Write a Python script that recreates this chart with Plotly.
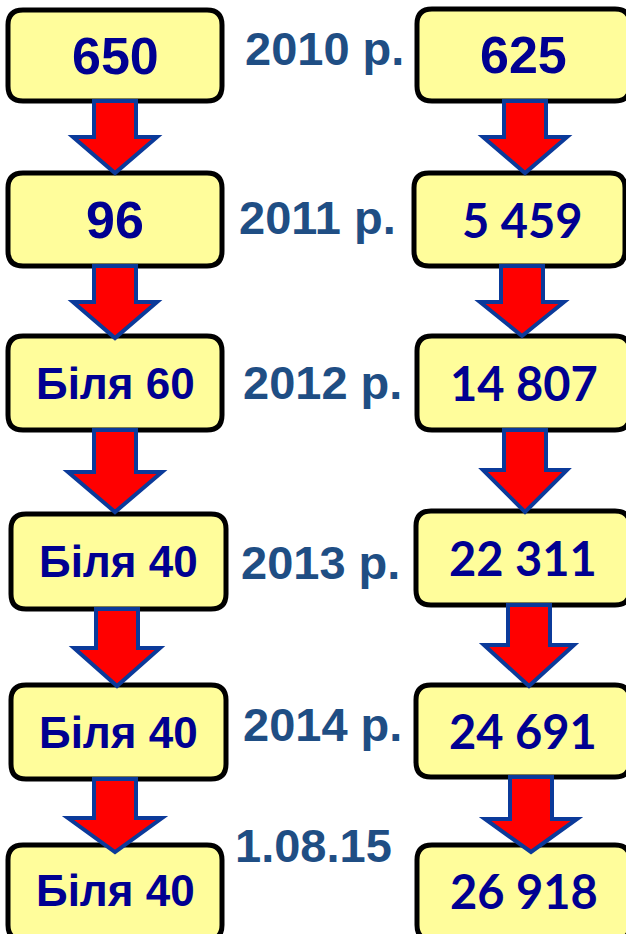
import plotly.graph_objects as go

# data
years = ["2010 р.", "2011 р.", "2012 р.", "2013 р.", "2014 р.", "1.08.15"]
left_values = ["650", "96", "Біля 60", "Біля 40", "Біля 40", "Біля 40"]
right_values = ["625", "5 459", "14 807", "22 311", "24 691", "26 918"]

# layout (pixel-like coords, y down)
W, H = 626, 934
left_box = [(8, 222, 10, 101), (8, 222, 173, 266), (8, 222, 336, 430),
            (11, 226, 514, 609), (11, 226, 685, 779), (8, 222, 845, 940)]
right_box = [(417, 630, 9, 101), (414, 625, 173, 266), (417, 630, 336, 430),
             (416, 630, 511, 605), (416, 630, 685, 777), (417, 630, 845, 940)]
year_pos = [(324, 48), (317, 217), (322, 382), (320, 562), (322, 724), (313, 845)]
# arrows: cx, top, head start, tip, head half width
left_arrows = [(115, 101, 137, 173, 42), (115, 266, 302, 338, 42), (115, 430, 472, 512, 47),
               (117, 609, 648, 686, 43), (115, 779, 818, 852, 47)]
right_arrows = [(525, 101, 137, 173, 42), (522, 266, 302, 336, 42), (525, 430, 470, 512, 42),
                (529, 605, 645, 686, 45), (531, 777, 819, 852, 46)]

BOX_FILL = "#FFFD9B"
NAVY = "#000091"
YEAR_COL = "#1F4E84"


def rbox(x0, x1, y0, y1, r=15):
    return (f"M {x0+r},{y0} L {x1-r},{y0} Q {x1},{y0} {x1},{y0+r} "
            f"L {x1},{y1-r} Q {x1},{y1} {x1-r},{y1} L {x0+r},{y1} "
            f"Q {x0},{y1} {x0},{y1-r} L {x0},{y0+r} Q {x0},{y0} {x0+r},{y0} Z")


def arrow(cx, top, hs, tip, hw, sw=21):
    return (f"M {cx-sw},{top} L {cx+sw},{top} L {cx+sw},{hs} L {cx+hw},{hs} "
            f"L {cx},{tip} L {cx-hw},{hs} L {cx-sw},{hs} Z")


fig = go.Figure()
shapes = []
for b in left_box + right_box:
    shapes.append(dict(type="path", path=rbox(*b), xref="x", yref="y",
                       fillcolor=BOX_FILL, line=dict(color="black", width=5)))
for a in left_arrows + right_arrows:
    shapes.append(dict(type="path", path=arrow(*a), xref="x", yref="y",
                       fillcolor="#FF0000", line=dict(color="#0B3A9A", width=4)))

ann = []
for i, txt in enumerate(left_values):
    x0, x1, y0, y1 = left_box[i]
    size = 52 if i < 2 else 44
    ann.append(dict(x=(x0 + x1) / 2, y=(y0 + min(y1, 936)) / 2, text=txt, showarrow=False,
                    font=dict(family="Liberation Sans", size=size, color=NAVY, weight="bold")))
for i, txt in enumerate(right_values):
    x0, x1, y0, y1 = right_box[i]
    cx = (x0 + min(x1, 626)) / 2 + 2
    if i == 0:
        f = dict(family="Liberation Sans", size=52, color=NAVY, weight="bold")
    else:
        f = dict(family="Lato", size=47, color=NAVY, weight="bold")
    ann.append(dict(x=cx, y=(y0 + min(y1, 936)) / 2, text=txt, showarrow=False, font=f))
for (x, y), txt in zip(year_pos, years):
    ann.append(dict(x=x, y=y, text=txt, showarrow=False,
                    font=dict(family="Liberation Sans", size=47, color=YEAR_COL, weight="bold")))

fig.update_layout(width=W, height=H, margin=dict(l=0, r=0, t=0, b=0),
                  plot_bgcolor="white", paper_bgcolor="white",
                  shapes=shapes, annotations=ann, showlegend=False)
fig.update_xaxes(range=[0, W], visible=False, fixedrange=True)
fig.update_yaxes(range=[H, 0], visible=False, fixedrange=True)

fig.write_html("out.html", config={"displayModeBar": False},
               post_script="document.body.style.margin='0';")
